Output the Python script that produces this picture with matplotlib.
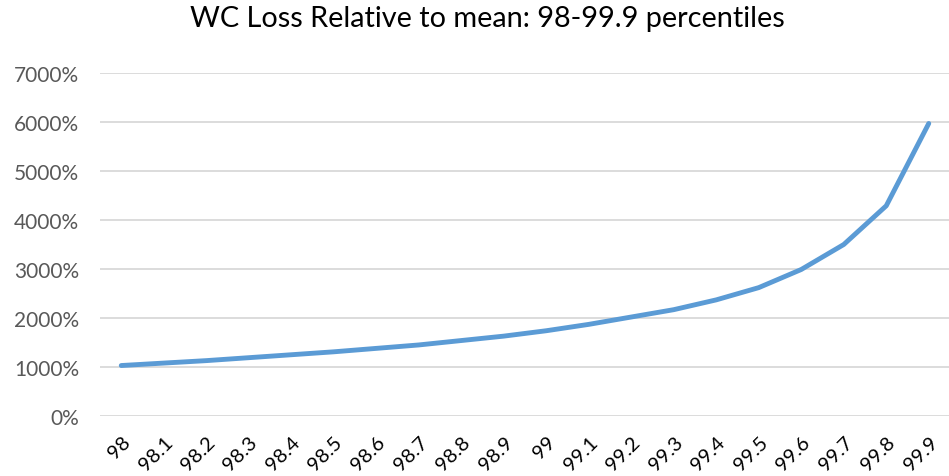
import matplotlib
matplotlib.use("Agg")
import matplotlib.pyplot as plt
from matplotlib.ticker import FuncFormatter

percentiles = ["98", "98.1", "98.2", "98.3", "98.4", "98.5", "98.6", "98.7", "98.8", "98.9",
               "99", "99.1", "99.2", "99.3", "99.4", "99.5", "99.6", "99.7", "99.8", "99.9"]
loss_pct = [1030, 1080, 1130, 1190, 1250, 1310, 1380, 1450, 1540, 1630,
            1740, 1870, 2020, 2170, 2370, 2620, 2990, 3500, 4290, 5970]
y_ticks = [0, 1000, 2000, 3000, 4000, 5000, 6000, 7000]

plt.rcParams['font.family'] = ['Lato', 'DejaVu Sans']

fig = plt.figure(figsize=(9.49, 4.77), dpi=100)
ax = fig.add_axes([100 / 949, 1 - 417 / 477, 850 / 949, (417 - 74) / 477])

x = list(range(len(percentiles)))
ax.plot(x, loss_pct, color="#5B9BD5", linewidth=3.5, solid_capstyle="round")

ax.set_xlim(-0.5, len(percentiles) - 0.5)
ax.set_ylim(0, 7000)
ax.set_yticks(y_ticks)
ax.yaxis.set_major_formatter(FuncFormatter(lambda v, _: f"{int(v)}%"))
ax.set_xticks(x)
ax.set_xticklabels(percentiles, rotation=45, ha="right", rotation_mode="anchor")

ax.grid(axis="y", color="#D9D9D9", linewidth=1.3)
ax.set_axisbelow(True)
for s in ax.spines.values():
    s.set_visible(False)
ax.tick_params(axis="both", length=0)
ax.tick_params(axis="y", pad=15, colors="#595959", labelsize=15)
ax.tick_params(axis="x", pad=12, colors="#000000", labelsize=14.5)

fig.suptitle("WC Loss Relative to mean: 98-99.9 percentiles", x=487 / 949, y=1 - 6 / 477,
             va="top", fontsize=20.8, color="#000000")

fig.savefig("out.png", dpi=100, facecolor="white")
